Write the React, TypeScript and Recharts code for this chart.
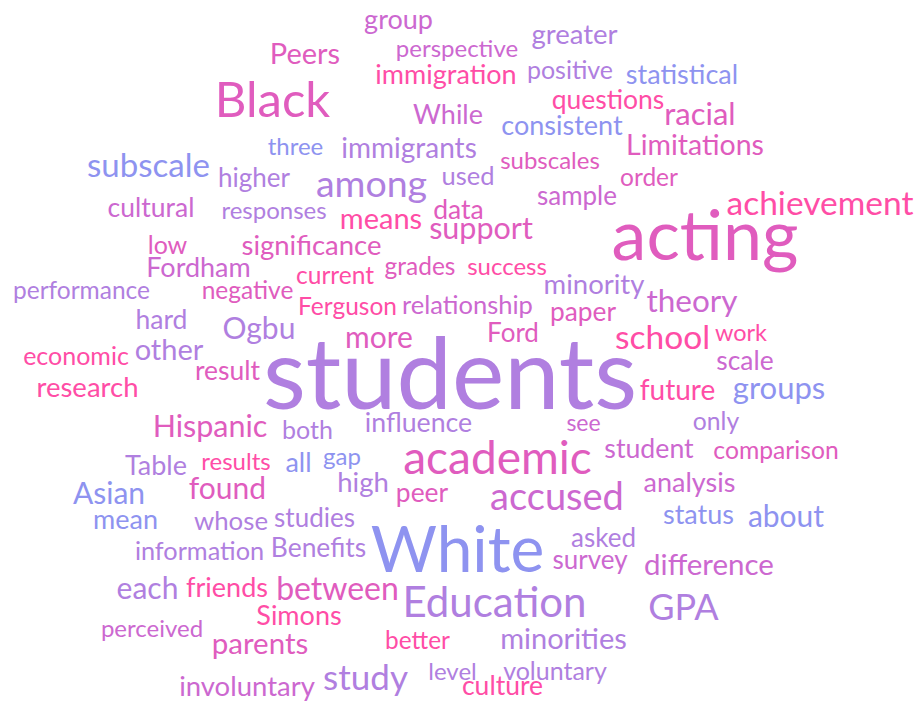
import React from "react";
import { ScatterChart, Scatter, XAxis, YAxis } from "recharts";

const words = [
  "group", "perspective", "greater", "Peers", "immigration", "positive", "statistical", "Black",
  "questions", "While", "racial", "consistent", "three", "immigrants", "subscales", "Limitations",
  "subscale", "higher", "used", "order", "among", "cultural", "responses", "data", "sample",
  "achievement", "means", "support", "acting", "low", "significance", "Fordham", "grades", "success",
  "current", "minority", "performance", "negative", "theory", "Ferguson", "relationship", "hard",
  "paper", "Ogbu", "more", "Ford", "school", "work", "economic", "other", "students", "scale",
  "result", "research", "future", "groups", "Hispanic", "both", "influence", "see", "only",
  "academic", "student", "comparison", "Table", "results", "all", "gap", "high", "Asian", "found",
  "peer", "analysis", "mean", "whose", "studies", "accused", "status", "about", "information",
  "Benefits", "White", "asked", "survey", "difference", "each", "friends", "between", "Education",
  "Simons", "GPA", "perceived", "parents", "better", "minorities", "study", "level", "voluntary",
  "involuntary", "culture",
];

const xs = [
  398.5, 457, 574.5, 305, 446, 570, 682, 272.5,
  608, 448, 700, 562, 295.5, 409, 550, 695,
  148.5, 254, 468, 649, 371.5, 151, 274, 458.5, 577,
  820, 381, 481, 705, 167.5, 311.5, 198.5, 420, 507,
  335, 594, 81.5, 247.5, 692, 347.5, 467.5, 161.5,
  583, 259, 379, 513, 662.5, 741, 76, 169, 450, 745,
  227.5, 87.5, 677.5, 779, 210, 307.5, 418.5, 583.5, 716,
  497.5, 649, 776, 156, 236, 298.5, 342, 363, 109, 227.5,
  422, 689.5, 125.5, 231, 314.5, 557, 698.5, 786, 199.5,
  318.5, 457.5, 603.5, 590, 709, 147.5, 227, 337.5, 494.5,
  299, 683.5, 152, 260, 417.5, 563.5, 365.5, 452.5, 555,
  247, 502.5,
];

const ys = [
  27, 55, 42, 62, 82, 77, 82, 115,
  107, 122, 123, 133, 153, 156, 167, 153,
  175, 185, 183, 184, 195, 215, 217, 217, 203,
  213, 227, 237, 258, 252, 253, 275, 273, 273,
  282, 292, 297, 297, 310, 313, 312, 327,
  319, 337, 346, 340, 347, 339, 363, 358, 407, 368,
  378, 395, 398, 397, 435, 437, 430, 429, 428,
  472, 456, 457, 473, 468, 470, 463, 490, 502, 497,
  500, 490, 527, 528, 525, 508, 522, 525, 558,
  555, 570, 545, 567, 573, 597, 595, 598, 615,
  623, 618, 635, 652, 647, 647, 688, 678, 678,
  694, 693,
];

const weights = [
  27, 24, 27.5, 29, 27, 25, 27, 49,
  26.5, 27, 31, 27, 24, 28, 24, 28.5,
  33, 26, 25.5, 24.5, 37.5, 26.5, 24, 26.5, 26,
  33.5, 29, 30.5, 70, 25, 27.5, 27, 24.5, 24,
  24.5, 27.5, 24.5, 24.5, 31.5, 24.5, 25.5, 26.5,
  26.3, 30, 30, 26, 33.5, 23.5, 25, 29, 99, 26.4,
  26.5, 27.5, 28, 31, 30.5, 25, 26.7, 23, 24.7,
  46, 26.7, 24.7, 27, 24, 27, 24, 27.5, 30, 30,
  26.4, 27, 27, 25.8, 26, 38, 27, 30, 25.3,
  26.4, 64, 26, 26, 29.5, 30, 27, 32, 42,
  27, 36, 24, 29.5, 24.4, 29, 35, 24, 25,
  27.5, 26.5,
];

// 0 blue, 1 purple, 2 orchid, 3 magenta, 4 pink
const tones = [
  2, 2, 1, 3, 4, 1, 0, 3,
  4, 2, 3, 0, 0, 1, 3, 3,
  0, 1, 1, 3, 1, 2, 1, 3, 2,
  4, 4, 3, 3, 3, 3, 2, 3, 4,
  4, 1, 1, 3, 2, 4, 2, 1,
  3, 1, 3, 3, 4, 4, 4, 1, 1, 2,
  3, 4, 4, 0, 3, 1, 1, 2, 1,
  3, 2, 3, 1, 4, 0, 0, 1, 0, 3,
  3, 2, 0, 1, 1, 2, 0, 0, 1,
  1, 0, 1, 2, 2, 1, 4, 3, 1,
  4, 1, 2, 3, 4, 1, 1, 1, 1,
  2, 4,
];

const palette = ["#8e93f0", "#b07fe0", "#cc68d0", "#e05cbe", "#ff4da6"];

const data = words.map((w, i) => ({
  word: w,
  x: xs[i],
  y: ys[i],
  weight: weights[i],
  tone: tones[i],
}));

const WordShape = (props: any) => {
  const { cx, cy, payload } = props;
  return (
    <text
      x={cx}
      y={cy}
      dy={2}
      textAnchor="middle"
      fontFamily="Lato, 'Open Sans', sans-serif"
      fontSize={payload.weight}
      fill={palette[payload.tone]}
    >
      {payload.word}
    </text>
  );
};

export default function App() {
  return (
    <div style={{ position: "absolute", left: 0, top: 0, width: 920, height: 703, background: "#fff" }}>
      <ScatterChart width={920} height={703} margin={{ top: 0, right: 0, bottom: 0, left: 0 }}>
        <XAxis type="number" dataKey="x" domain={[0, 920]} hide />
        <YAxis type="number" dataKey="y" domain={[0, 703]} reversed hide />
        <Scatter data={data} shape={WordShape} isAnimationActive={false} />
      </ScatterChart>
    </div>
  );
}
